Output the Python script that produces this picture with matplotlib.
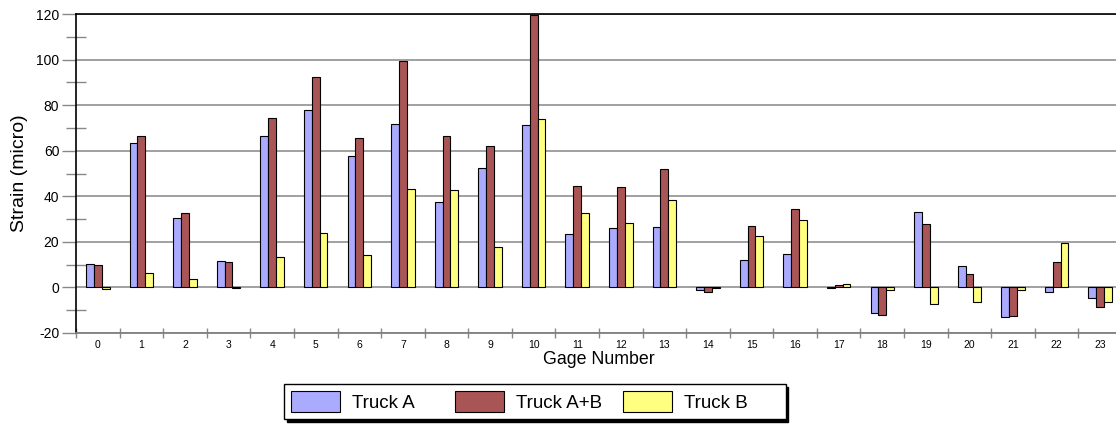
import matplotlib.pyplot as plt
import numpy as np
from matplotlib.ticker import MultipleLocator, FixedLocator

plt.rcParams['font.family'] = ['Liberation Sans', 'DejaVu Sans']
plt.rcParams['axes.unicode_minus'] = False

gages = list(range(24))
truck_a = [10.4, 63.4, 30.4, 11.6, 66.3, 77.9, 57.5, 71.6, 37.6, 52.2, 71.3, 23.3,
           26.0, 26.6, -1.3, 12.2, 14.7, -0.3, -11.2, 33.3, 9.5, -13.1, -1.9, -4.6]
truck_ab = [9.7, 66.6, 32.6, 11.0, 74.5, 92.3, 65.6, 99.2, 66.3, 62.2, 119.5, 44.5,
            44.2, 52.0, -1.9, 26.9, 34.3, 0.9, -12.2, 27.7, 5.9, -12.5, 11.1, -8.8]
truck_b = [-0.5, 6.4, 3.5, -0.2, 13.5, 23.8, 14.2, 43.0, 42.7, 17.6, 73.7, 32.7,
           28.2, 38.3, -0.3, 22.5, 29.6, 1.5, -1.3, -7.4, -6.5, -1.3, 19.6, -6.6]

W, H = 1116, 429
fig = plt.figure(figsize=(W / 100, H / 100), dpi=100)
# plot area runs a little past the right edge of the figure
ax = fig.add_axes([76 / W, (H - 333) / H, 1046 / W, 319 / H])

x = np.arange(len(gages))
bw = 0.18
# trailing spaces keep the three legend columns the same width
series = [(truck_a, '#AAAAFF', 'Truck A    '),
          (truck_ab, '#AA5555', 'Truck A+B'),
          (truck_b, '#FFFF80', 'Truck B      ')]
for i, (vals, col, lab) in enumerate(series):
    ax.bar(x + (i - 1) * bw, vals, bw, color=col, edgecolor='black',
           linewidth=0.8, label=lab, zorder=3)

ax.set_xlim(-0.5, 23.5)
ax.set_ylim(-20, 120)

# y axis
ax.yaxis.set_major_locator(MultipleLocator(20))
ax.yaxis.set_minor_locator(MultipleLocator(10))
ax.tick_params(axis='y', which='major', direction='out', length=10, color='#888888',
               width=1, labelsize=10, pad=2)
ax.tick_params(axis='y', which='minor', direction='inout', length=14, color='#888888',
               width=1)
ax.grid(axis='y', which='major', color='#999999', linewidth=1.3, zorder=0)

# x axis: tick marks between gages, labels centred on gages
ax.set_xticks(x)
ax.set_xticklabels([str(g) for g in gages])
ax.xaxis.set_minor_locator(FixedLocator(np.arange(-0.5, 24, 1)))
ax.tick_params(axis='x', which='major', length=0, labelsize=7.5, pad=5)
ax.tick_params(axis='x', which='minor', direction='inout', length=7, color='#888888',
               width=1)

ax.spines['right'].set_visible(False)
ax.spines['top'].set_color('black')
ax.spines['top'].set_linewidth(1.2)
ax.spines['left'].set_color('black')
ax.spines['left'].set_linewidth(1.2)
ax.spines['bottom'].set_color('#808080')
ax.spines['bottom'].set_linewidth(1.3)

fig.text(20 / W, (H - 173.5) / H, 'Strain (micro)', rotation=90, ha='center',
         va='center', fontsize=14)
fig.text(599 / W, (H - 360) / H, 'Gage Number', ha='center', va='center',
         fontsize=12.8)

leg = ax.legend(loc='center', bbox_to_anchor=(535 / W, (H - 401.5) / H),
                bbox_transform=fig.transFigure, ncol=3, fontsize=13.5,
                frameon=True, fancybox=False, edgecolor='black',
                shadow={'color': 'black', 'alpha': 1},
                handlelength=2.6, handleheight=1.4, handletextpad=0.65,
                columnspacing=1.1, borderpad=0.35, borderaxespad=0)
leg.get_frame().set_linewidth(1.0)

fig.savefig('out.png', dpi=100)
